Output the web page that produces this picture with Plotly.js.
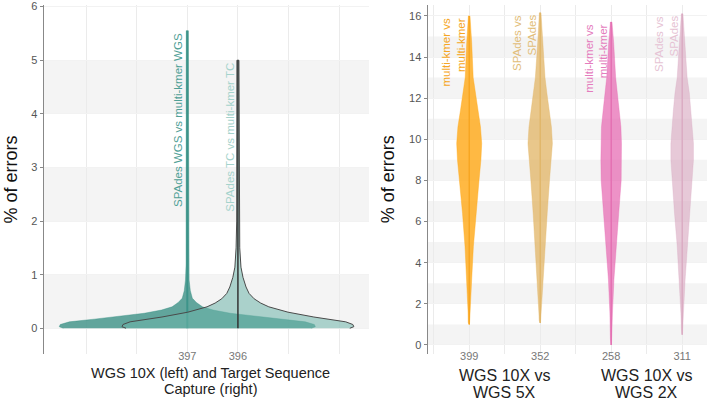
<!DOCTYPE html>
<html>
<head>
<meta charset="utf-8">
<script src="https://cdn.plot.ly/plotly-3.0.1.min.js"></script>
<style>
  html, body { margin: 0; padding: 0; background: #fff; }
  #chart { width: 709px; height: 400px; }
</style>
</head>
<body>
<div id="chart"></div>
<script>
// left panel: WGS 10X (397) vs target sequence capture (396)
const leftCats = ['397', '396'];
const leftNames = ['SPAdes WGS vs multi-kmer WGS', 'SPAdes TC vs multi-kmer TC'];
const wgsLevels = [0, 0.03, 0.07, 0.12, 0.17, 0.21, 0.28, 0.34, 0.40, 0.48, 0.56, 0.7, 0.9, 1.2, 5.55];
const wgsWidth = [2.45, 2.53, 2.51, 2.33, 1.84, 1.50, 0.85, 0.51, 0.30, 0.18, 0.10, 0.06, 0.036, 0.024, 0.02];
const tcLevels = [0, 0.03, 0.07, 0.12, 0.21, 0.30, 0.40, 0.47, 0.55, 0.65, 0.77, 0.95, 1.14, 1.5, 2.0, 5.0];
const tcWidth = [2.21, 2.29, 2.27, 2.13, 1.50, 0.99, 0.61, 0.45, 0.32, 0.22, 0.16, 0.10, 0.06, 0.036, 0.024, 0.02];

// right panel: WGS 10X vs 5X and vs 2X
const rightCats = ['399', '352', '258', '311'];
const rightNames = [['multi-kmer vs', 'multi-kmer'], ['SPAdes vs', 'SPAdes'], ['multi-kmer vs', 'multi-kmer'], ['SPAdes vs', 'SPAdes']];
const groupTitles = [['WGS 10X vs', 'WGS 5X'], ['WGS 10X vs', 'WGS 2X']];
const mk5Levels = [1.0, 1.1, 1.55, 3.2, 4.8, 6.4, 8.0, 9.0, 9.8, 10.6, 11.4, 12.25, 13.0, 14.7, 15.5, 16.0];
const mk5Width = [0.004, 0.013, 0.015, 0.035, 0.059, 0.094, 0.138, 0.165, 0.176, 0.159, 0.123, 0.085, 0.056, 0.035, 0.021, 0.011];
const sp5Levels = [1.07, 1.2, 1.55, 3.2, 4.8, 6.4, 8.0, 9.0, 9.8, 10.6, 11.4, 12.25, 13.0, 14.7, 15.6, 16.15];
const sp5Width = [0.004, 0.014, 0.018, 0.042, 0.070, 0.099, 0.131, 0.158, 0.172, 0.158, 0.130, 0.094, 0.068, 0.035, 0.021, 0.011];
const mk2Levels = [0, 0.3, 1.55, 3.2, 4.8, 6.4, 8.0, 9.0, 9.8, 10.6, 11.4, 12.25, 13.0, 14.7, 15.3, 15.7];
const mk2Width = [0.004, 0.011, 0.018, 0.039, 0.073, 0.106, 0.141, 0.145, 0.145, 0.137, 0.113, 0.089, 0.063, 0.035, 0.021, 0.011];
const sp2Levels = [0.5, 0.8, 1.55, 3.2, 4.8, 6.4, 8.0, 9.0, 9.8, 10.6, 11.4, 12.25, 13.0, 14.7, 15.5, 16.1];
const sp2Width = [0.004, 0.011, 0.018, 0.042, 0.070, 0.108, 0.137, 0.159, 0.159, 0.145, 0.124, 0.101, 0.070, 0.039, 0.023, 0.011];

const leftColors = [
  {fill: 'rgba(40,135,122,0.72)', edge: 'rgba(40,135,122,0.72)', mid: '#3d948a', text: '#4fa096'},
  {fill: 'rgba(110,180,170,0.55)', edge: '#4a4a4a', mid: '#333333', text: '#a5d3cc'}
];
const rightColors = [
  {fill: 'rgba(255,167,20,0.8)', mid: '#f7a21b', text: '#f5a623'},
  {fill: 'rgba(225,180,100,0.75)', mid: '#e0b465', text: '#e2bd78'},
  {fill: 'rgba(230,100,175,0.7)', mid: '#e36aaf', text: '#e47cbd'},
  {fill: 'rgba(215,165,190,0.6)', mid: '#d9a6bf', text: '#e6c3d4'}
];

const labelFont = 'Liberation Sans, Arial, sans-serif';

function violin(pos, levels, widths, xa, ya, fill, edge, edgeW) {
  const xs = levels.map((_, i) => pos - widths[i])
    .concat(levels.map((_, i) => pos + widths[i]).reverse());
  const ys = levels.concat(levels.slice().reverse());
  return {type: 'scatter', mode: 'lines', x: xs, y: ys, xaxis: xa, yaxis: ya,
    fill: 'toself', fillcolor: fill, line: {color: edge, width: edgeW},
    hoverinfo: 'skip', showlegend: false};
}
function midLine(pos, levels, xa, ya, color, w) {
  return {type: 'scatter', mode: 'lines', x: [pos, pos], y: [levels[0], levels[levels.length - 1]],
    xaxis: xa, yaxis: ya, line: {color: color, width: w}, hoverinfo: 'skip', showlegend: false};
}

const traces = [];
const annotations = [];

const leftSets = [[wgsLevels, wgsWidth], [tcLevels, tcWidth]];
const leftPos = leftCats.map((_, i) => i + 3);
leftSets.forEach(([lv, wd], i) => {
  const c = leftColors[i];
  traces.push(violin(leftPos[i], lv, wd, 'x', 'y', c.fill, c.edge, i === 1 ? 1 : 0.5));
  traces.push(midLine(leftPos[i], lv, 'x', 'y', c.mid, i === 0 ? 2 : 1.5));
  annotations.push({xref: 'x', yref: 'y', x: leftPos[i], y: lv[lv.length - 1],
    text: leftNames[i], textangle: -90, xanchor: 'center', yanchor: 'top',
    xshift: i === 0 ? -10 : -8, showarrow: false,
    font: {family: labelFont, size: 11.5, color: c.text}});
});

const rightSets = [[mk5Levels, mk5Width], [sp5Levels, sp5Width], [mk2Levels, mk2Width], [sp2Levels, sp2Width]];
const rightPos = rightCats.map((_, i) => i + 1);
rightSets.forEach(([lv, wd], i) => {
  const c = rightColors[i];
  traces.push(violin(rightPos[i], lv, wd, 'x2', 'y2', c.fill, c.fill, 0.5));
  traces.push(midLine(rightPos[i], lv, 'x2', 'y2', c.mid, 1.2));
  rightNames[i].forEach((t, j) => {
    annotations.push({xref: 'x2', yref: 'y2', x: rightPos[i], y: lv[lv.length - 1],
      text: t, textangle: -90, xanchor: 'center', yanchor: 'top',
      xshift: j === 0 ? -23 : -8, showarrow: false,
      font: {family: labelFont, size: 11.5, color: c.text}});
  });
});

// axis titles
['% of errors', '% of errors'].forEach((t, i) => {
  annotations.push({xref: 'paper', yref: 'paper', x: i === 0 ? 0.0155 : 0.547, y: 0.5,
    text: t, textangle: -90, showarrow: false, xanchor: 'center', yanchor: 'middle',
    font: {size: 18, color: '#111'}});
});
['WGS 10X (left) and Target Sequence', 'Capture (right)'].forEach((t, j) => {
  annotations.push({xref: 'paper', yref: 'paper', x: 0.2976, y: j === 0 ? -0.0544 : -0.1017,
    text: t, showarrow: false, xanchor: 'center', yanchor: 'middle',
    font: {size: 14.5, color: '#222'}});
});
groupTitles.forEach((lines, g) => {
  lines.forEach((t, j) => {
    annotations.push({xref: 'x2', yref: 'paper', x: 1.5 + 2 * g, y: j === 0 ? -0.0625 : -0.1095,
      text: t, showarrow: false, xanchor: 'center', yanchor: 'middle',
      font: {size: 16, color: '#222'}});
  });
});

// alternating grey bands
const shapes = [];
function bands(ya, top) {
  for (let k = 0; k + 1 <= top; k += 2) {
    shapes.push({type: 'rect', xref: ya === 'y' ? 'x domain' : 'x2 domain', yref: ya,
      x0: 0, x1: 1, y0: k, y1: k + 1, fillcolor: '#f4f4f4', line: {width: 0}, layer: 'below'});
  }
}
bands('y', 6);
bands('y2', 16);

const leftTicks = [1, 2, 3, 4, 5, 6];
const rightTicks = [0.5, 1, 1.5, 2, 2.5, 3, 3.5, 4];
const gridC = '#ebebeb';
const xBase = {showgrid: true, gridcolor: gridC, gridwidth: 1, zeroline: false, showline: false,
  ticks: '', tickfont: {size: 11, color: '#777'}, ticklabelstandoff: -6, fixedrange: true};
const yBase = {showgrid: true, gridcolor: '#f2f2f2', zeroline: false, showline: true, linecolor: '#888',
  linewidth: 1.5, ticks: 'outside', ticklen: 3, tickcolor: '#888', tickfont: {size: 11, color: '#555'},
  ticklabeloverflow: 'allow'};

const layout = {
  width: 709, height: 400,
  margin: {l: 0, r: 0, t: 5, b: 46},
  paper_bgcolor: '#ffffff', plot_bgcolor: '#ffffff',
  font: {family: 'Liberation Sans, Arial, sans-serif', color: '#222'},
  showlegend: false,
  xaxis: Object.assign({}, xBase, {domain: [0.0621, 0.5205], range: [0.17, 6.59], anchor: 'y',
    tickvals: leftTicks, ticktext: leftTicks.map(v => v === 3 ? leftCats[0] : v === 4 ? leftCats[1] : '')}),
  yaxis: Object.assign({}, yBase, {range: [-0.48, 6.03], tickvals: [0, 1, 2, 3, 4, 5, 6], anchor: 'x'}),
  xaxis2: Object.assign({}, xBase, {domain: [0.6037, 0.9972], range: [0.42, 4.35], anchor: 'y2',
    tickvals: rightTicks, ticktext: rightTicks.map(v => Number.isInteger(v) ? rightCats[v - 1] : '')}),
  yaxis2: Object.assign({}, yBase, {range: [-0.44, 16.53], tickvals: [0, 2, 4, 6, 8, 10, 12, 14, 16], anchor: 'x2'}),
  shapes: shapes,
  annotations: annotations
};

Plotly.newPlot('chart', traces, layout, {staticPlot: true, displayModeBar: false});
</script>
</body>
</html>
